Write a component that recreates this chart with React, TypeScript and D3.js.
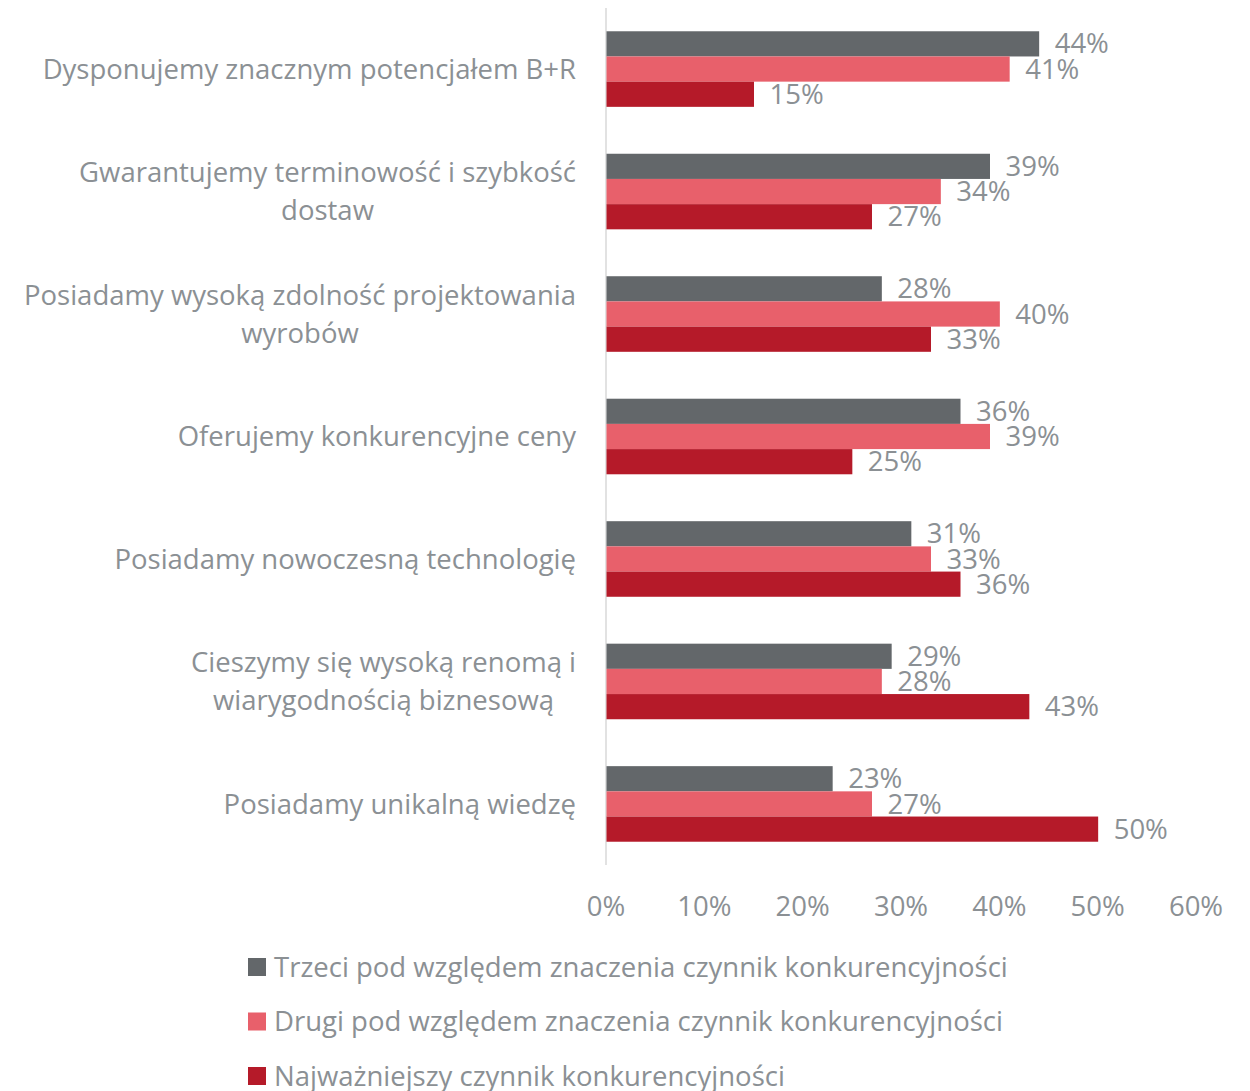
import React, { useEffect, useRef } from "react";
import * as d3 from "d3";

const categories: string[][] = [
  ["Dysponujemy znacznym potencjałem B+R"],
  ["Gwarantujemy terminowość i szybkość", "dostaw"],
  ["Posiadamy wysoką zdolność projektowania", "wyrobów"],
  ["Oferujemy konkurencyjne ceny"],
  ["Posiadamy nowoczesną technologię"],
  ["Cieszymy się wysoką renomą i", "wiarygodnością biznesową"],
  ["Posiadamy unikalną wiedzę"],
];
const seriesNames = [
  "Trzeci pod względem znaczenia czynnik konkurencyjności",
  "Drugi pod względem znaczenia czynnik konkurencyjności",
  "Najważniejszy czynnik konkurencyjności",
];
const trzeci = [44, 39, 28, 36, 31, 29, 23];
const drugi = [41, 34, 40, 39, 33, 28, 27];
const najwazniejszy = [15, 27, 33, 25, 36, 43, 50];
const ticks = [0, 10, 20, 30, 40, 50, 60];
const colors = ["#63676A", "#E8606B", "#B51A29"];

const W = 1250;
const H = 1091;
const FONT = "'Open Sans', sans-serif";
const FS = 27.5;
const TEXT = "#8B9094";

export default function App() {
  const ref = useRef<SVGSVGElement>(null);
  useEffect(() => {
    const svg = d3.select(ref.current);
    svg.selectAll("*").remove();
    const series = [trzeci, drugi, najwazniejszy];
    const x = d3.scaleLinear().domain([0, 60]).range([606, 1196]);
    const y = d3
      .scaleBand<number>()
      .domain(d3.range(categories.length))
      .range([8, 865])
      .paddingInner(0.383)
      .paddingOuter(0.19);
    const inner = d3.scaleBand<number>().domain([0, 1, 2]).range([0, y.bandwidth()]);

    const g = svg.append("g");
    g.append("line")
      .attr("x1", x(0))
      .attr("x2", x(0))
      .attr("y1", 8)
      .attr("y2", 865)
      .attr("stroke", "#D9D9D9")
      .attr("stroke-width", 1.5);

    series.forEach((vals, si) => {
      vals.forEach((v, ci) => {
        const yy = (y(ci) as number) + (inner(si) as number);
        g.append("rect")
          .attr("x", x(0) + 0.5)
          .attr("y", yy)
          .attr("width", x(v) - x(0))
          .attr("height", inner.bandwidth())
          .attr("fill", colors[si]);
        g.append("text")
          .attr("x", x(v) + 16)
          .attr("y", yy + inner.bandwidth() / 2)
          .attr("dy", "0.35em")
          .attr("font-family", FONT)
          .attr("font-size", FS)
          .attr("fill", TEXT)
          .text(v + "%");
      });
    });

    categories.forEach((lines, ci) => {
      const cy = (y(ci) as number) + y.bandwidth() / 2;
      const lh = 38;
      const grp = g.append("g");
      const texts = lines.map((ln, li) =>
        grp
          .append("text")
          .attr("y", cy + (li - (lines.length - 1) / 2) * lh)
          .attr("dy", "0.35em")
          .attr("font-family", FONT)
          .attr("font-size", FS)
          .attr("fill", TEXT)
          .attr("text-anchor", "middle")
          .text(ln)
      );
      const maxW = d3.max(texts, (t) => (t.node() as SVGTextElement).getComputedTextLength()) || 0;
      texts.forEach((t) => t.attr("x", 576 - maxW / 2));
    });

    ticks.forEach((t) => {
      g.append("text")
        .attr("x", x(t))
        .attr("y", 906)
        .attr("dy", "0.35em")
        .attr("text-anchor", "middle")
        .attr("font-family", FONT)
        .attr("font-size", FS)
        .attr("fill", TEXT)
        .text(t + "%");
    });

    seriesNames.forEach((name, i) => {
      const cy = 967 + i * 54.5;
      g.append("rect")
        .attr("x", 248)
        .attr("y", cy - 9)
        .attr("width", 18)
        .attr("height", 18)
        .attr("fill", colors[i]);
      g.append("text")
        .attr("x", 274)
        .attr("y", cy)
        .attr("dy", "0.35em")
        .attr("font-family", FONT)
        .attr("font-size", FS)
        .attr("fill", TEXT)
        .text(name);
    });
  }, []);
  return (
    <svg
      ref={ref}
      width={W}
      height={H}
      style={{ position: "absolute", left: 0, top: 0, background: "#fff" }}
    />
  );
}
